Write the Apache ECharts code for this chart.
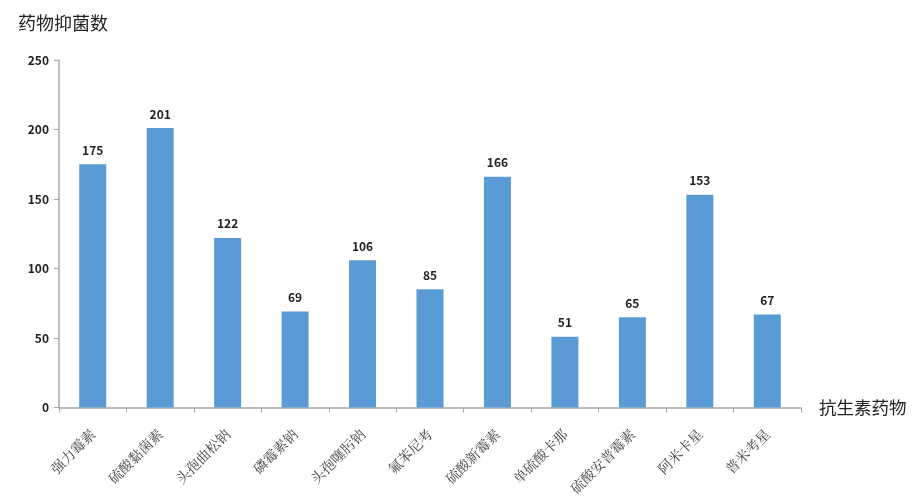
<!DOCTYPE html>
<html><head><meta charset="utf-8">
<script src="https://cdn.jsdelivr.net/npm/echarts@6/dist/echarts.min.js"></script>
<style>html,body{margin:0;padding:0;background:#fff}#c{width:920px;height:498px}</style>
</head><body><div id="c"></div>
<script>
var categories = ['强力霉素','硫酸黏菌素','头孢曲松钠','磷霉素钠','头孢噻肟钠','氟苯尼考','硫酸新霉素','单硫酸卡那','硫酸安普霉素','阿米卡星','普米考星'];
var values = [175,201,122,69,106,85,166,51,65,153,67];
var yTicks = {min:0,max:250,interval:50};
var chart = echarts.init(document.getElementById('c'));
chart.setOption({
  animation:false,
  textStyle:{fontFamily:'"Noto Sans CJK SC", sans-serif'},
  title:{text:'药物抑菌数',left:13,top:9,textStyle:{fontSize:18,fontWeight:'normal',color:'#222',fontFamily:'"Noto Sans CJK SC"'}},
  grid:{left:59,right:119,top:60,bottom:89,containLabel:false},
  xAxis:{type:'category',data:categories,name:'抗生素药物',nameLocation:'end',nameGap:18,
    nameTextStyle:{fontSize:17.5,color:'#222',verticalAlign:'middle',padding:[-14,0,0,0]},
    axisLine:{lineStyle:{color:'#a6a6a6',width:1.5}},
    axisTick:{show:true,alignWithLabel:false,length:5,lineStyle:{color:'#a6a6a6'}},
    axisLabel:{rotate:45,interval:0,fontSize:14,color:'#444',margin:24,fontFamily:'"Noto Serif CJK SC","Noto Sans CJK SC"'}},
  yAxis:{type:'value',min:yTicks.min,max:yTicks.max,interval:yTicks.interval,
    axisLine:{show:true,lineStyle:{color:'#a6a6a6',width:1.5}},
    axisTick:{show:true,length:5,lineStyle:{color:'#a6a6a6'}},
    splitLine:{show:false},
    axisLabel:{fontSize:12,color:'#222',fontWeight:'bold',margin:10}},
  series:[{type:'bar',data:values,barWidth:27,itemStyle:{color:'#5b9bd5'},
    label:{show:true,position:'top',distance:8,fontSize:12,fontWeight:'bold',color:'#222'}}]
});
</script></body></html>
